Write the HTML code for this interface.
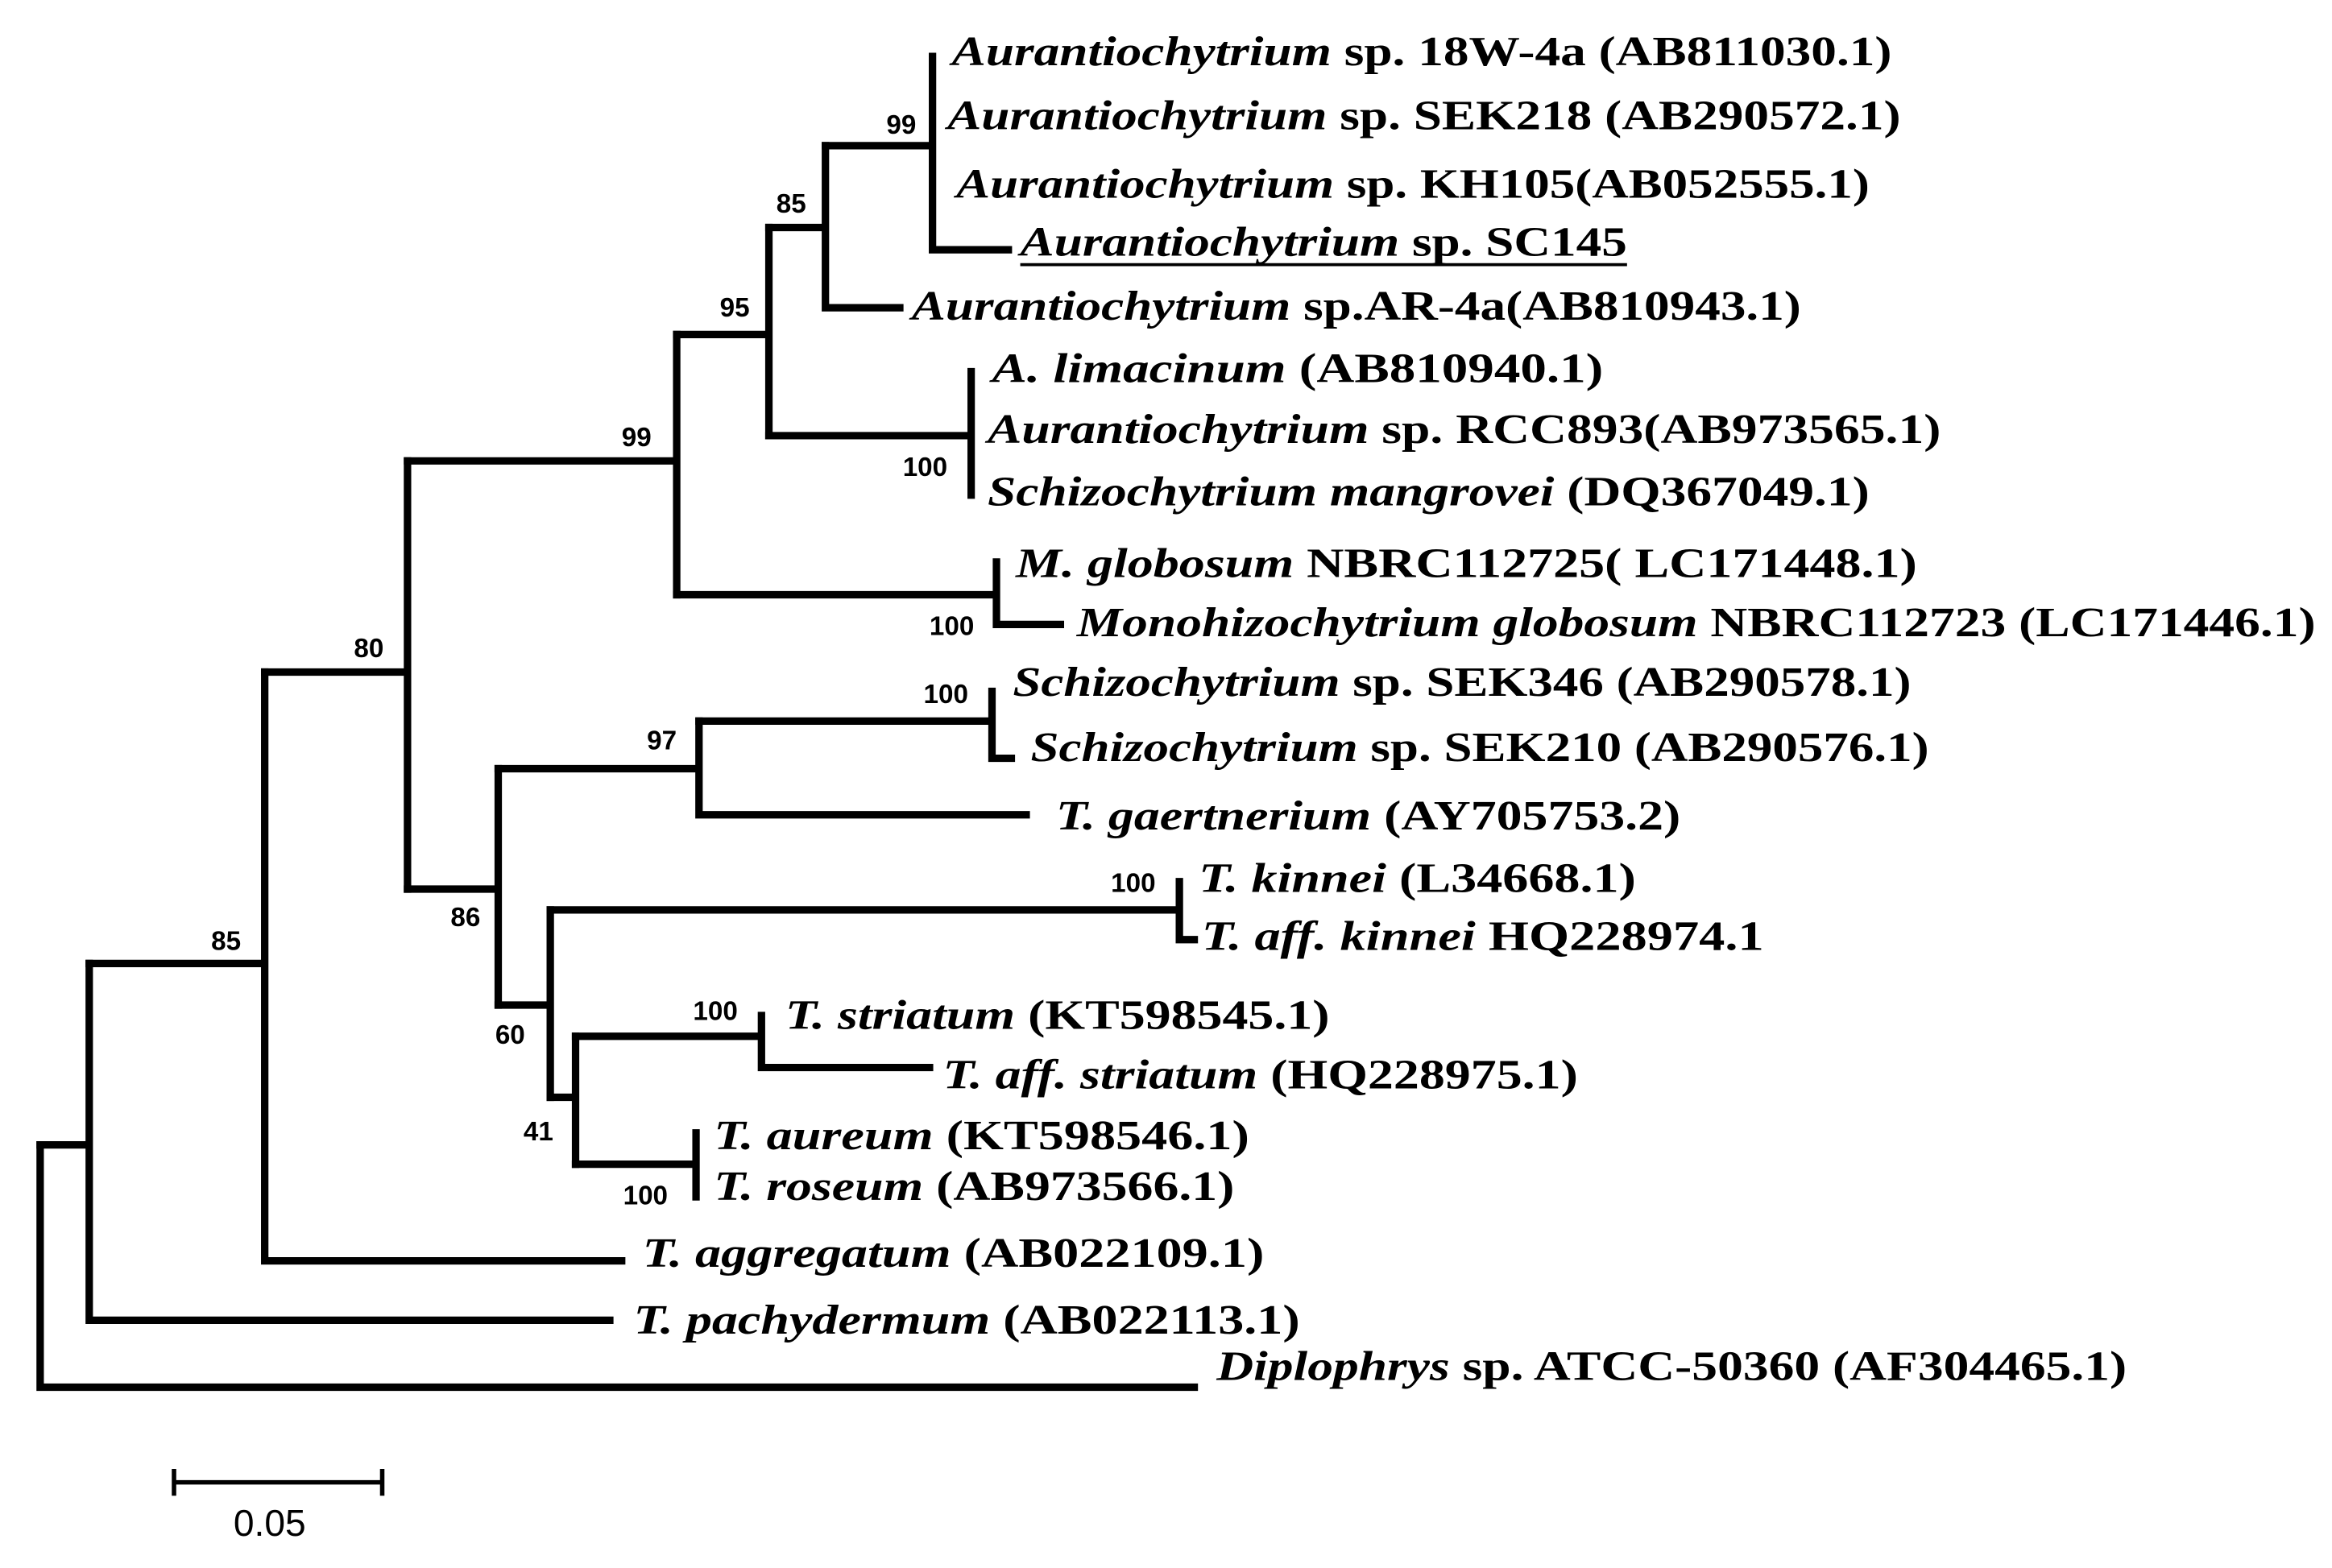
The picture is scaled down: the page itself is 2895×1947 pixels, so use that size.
<!DOCTYPE html>
<html><head><meta charset="utf-8"><style>html,body{margin:0;padding:0;background:#fff}svg{display:block}</style></head><body>
<svg width="2895" height="1947" viewBox="0 0 1568 1054.6" preserveAspectRatio="none" xmlns="http://www.w3.org/2000/svg">
<g stroke="#000" stroke-width="5" fill="none" stroke-linecap="square">
<path d="M27 770V933H803"/>
<path d="M27 770H60M60 648V888H410"/>
<path d="M60 648H178M178 452V848H418"/>
<path d="M178 452H274M274 310V598"/>
<path d="M274 310H455M455 225V400"/>
<path d="M455 225H517M517 153V293"/>
<path d="M517 153H555M555 98V207H605"/>
<path d="M555 98H627M627 38V168H678"/>
<path d="M517 293H653M653 250V333"/>
<path d="M455 400H670M670 378V420H713"/>
<path d="M274 598H335M335 517V676"/>
<path d="M335 517H470M470 485V548H690"/>
<path d="M470 485H667M667 465V510H680"/>
<path d="M335 676H370M370 612V738"/>
<path d="M370 612H793M793 593V632H803"/>
<path d="M370 738H387M387 697V783"/>
<path d="M387 697H512M512 683V718H625"/>
<path d="M387 783H468M468 762V805"/>
</g>
<g stroke="#000" stroke-width="3" fill="none">
<path d="M117 997H257M117 988V1006M257 988V1006"/>
</g>
<g font-family="Liberation Sans, sans-serif" font-weight="bold" font-size="18" fill="#000">
<text x="596" y="90">99</text>
<text x="522" y="143">85</text>
<text x="484" y="213">95</text>
<text x="418" y="300">99</text>
<text x="607" y="320">100</text>
<text x="625" y="427">100</text>
<text x="238" y="442">80</text>
<text x="621" y="473">100</text>
<text x="435" y="504">97</text>
<text x="747" y="600">100</text>
<text x="303" y="623">86</text>
<text x="142" y="639">85</text>
<text x="466" y="686">100</text>
<text x="333" y="702">60</text>
<text x="352" y="767">41</text>
<text x="419" y="810">100</text>
</g>
<text x="157" y="1033" font-family="Liberation Sans, sans-serif" font-size="25">0.05</text>
<g font-family="Liberation Serif, serif" font-weight="bold" font-size="28" fill="#000">
<text x="640" y="44" textLength="632" lengthAdjust="spacingAndGlyphs"><tspan font-style="italic">Aurantiochytrium</tspan> sp. 18W-4a (AB811030.1)</text>
<text x="637" y="87" textLength="641" lengthAdjust="spacingAndGlyphs"><tspan font-style="italic">Aurantiochytrium</tspan> sp. SEK218 (AB290572.1)</text>
<text x="643" y="133" textLength="614" lengthAdjust="spacingAndGlyphs"><tspan font-style="italic">Aurantiochytrium</tspan> sp. KH105(AB052555.1)</text>
<text x="686" y="172" textLength="408" lengthAdjust="spacingAndGlyphs"><tspan font-style="italic">Aurantiochytrium</tspan> sp. SC145</text>
<text x="613" y="215" textLength="598" lengthAdjust="spacingAndGlyphs"><tspan font-style="italic">Aurantiochytrium</tspan> sp.AR-4a(AB810943.1)</text>
<text x="667" y="257" textLength="411" lengthAdjust="spacingAndGlyphs"><tspan font-style="italic">A. limacinum</tspan> (AB810940.1)</text>
<text x="664" y="298" textLength="641" lengthAdjust="spacingAndGlyphs"><tspan font-style="italic">Aurantiochytrium</tspan> sp. RCC893(AB973565.1)</text>
<text x="664" y="340" textLength="593" lengthAdjust="spacingAndGlyphs"><tspan font-style="italic">Schizochytrium mangrovei</tspan> (DQ367049.1)</text>
<text x="683" y="388" textLength="606" lengthAdjust="spacingAndGlyphs"><tspan font-style="italic">M. globosum</tspan> NBRC112725( LC171448.1)</text>
<text x="724" y="428" textLength="833" lengthAdjust="spacingAndGlyphs"><tspan font-style="italic">Monohizochytrium globosum</tspan> NBRC112723 (LC171446.1)</text>
<text x="681" y="468" textLength="604" lengthAdjust="spacingAndGlyphs"><tspan font-style="italic">Schizochytrium</tspan> sp. SEK346 (AB290578.1)</text>
<text x="693" y="512" textLength="604" lengthAdjust="spacingAndGlyphs"><tspan font-style="italic">Schizochytrium</tspan> sp. SEK210 (AB290576.1)</text>
<text x="710" y="558" textLength="420" lengthAdjust="spacingAndGlyphs"><tspan font-style="italic">T. gaertnerium</tspan> (AY705753.2)</text>
<text x="806" y="600" textLength="294" lengthAdjust="spacingAndGlyphs"><tspan font-style="italic">T. kinnei</tspan> (L34668.1)</text>
<text x="808" y="639" textLength="378" lengthAdjust="spacingAndGlyphs"><tspan font-style="italic">T. aff. kinnei</tspan> HQ228974.1</text>
<text x="528" y="692" textLength="366" lengthAdjust="spacingAndGlyphs"><tspan font-style="italic">T. striatum</tspan> (KT598545.1)</text>
<text x="634" y="732" textLength="427" lengthAdjust="spacingAndGlyphs"><tspan font-style="italic">T. aff. striatum</tspan> (HQ228975.1)</text>
<text x="480" y="773" textLength="360" lengthAdjust="spacingAndGlyphs"><tspan font-style="italic">T. aureum</tspan> (KT598546.1)</text>
<text x="480" y="807" textLength="350" lengthAdjust="spacingAndGlyphs"><tspan font-style="italic">T. roseum</tspan> (AB973566.1)</text>
<text x="432" y="852" textLength="418" lengthAdjust="spacingAndGlyphs"><tspan font-style="italic">T. aggregatum</tspan> (AB022109.1)</text>
<text x="426" y="897" textLength="448" lengthAdjust="spacingAndGlyphs"><tspan font-style="italic">T. pachydermum</tspan> (AB022113.1)</text>
<text x="818" y="928" textLength="612" lengthAdjust="spacingAndGlyphs"><tspan font-style="italic">Diplophrys</tspan> sp. ATCC-50360 (AF304465.1)</text>
</g>
<path d="M686 178H1094" stroke="#000" stroke-width="2"/>
</svg>
</body></html>
